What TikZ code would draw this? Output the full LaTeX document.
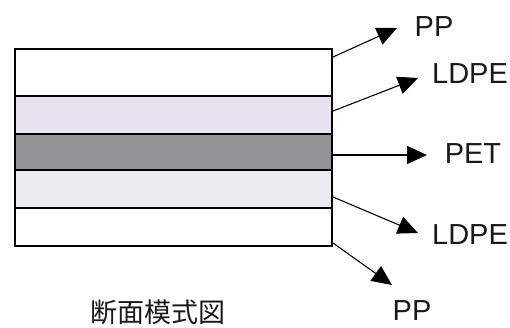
\documentclass[tikz,border=0pt]{standalone}
\usepackage{fontspec}
\setmainfont{Liberation Sans}
\newfontfamily\cjk{Noto Sans CJK JP}
\usetikzlibrary{arrows.meta}
\definecolor{lav}{RGB}{230,226,240}
\definecolor{midgray}{RGB}{148,148,150}
\definecolor{pale}{RGB}{236,235,239}
\begin{document}
\begin{tikzpicture}[x=1pt,y=-1pt,
  layer/.style={draw=black,line width=1.3pt,inner sep=0pt,outer sep=0pt,minimum width=317pt,anchor=north west},
  lbl/.style={font=\fontsize{29}{29}\selectfont,inner sep=0pt,text=black!90},
  arr/.style={line width=1.1pt,-{Triangle[length=20pt,width=18pt]}}]
\useasboundingbox (0,0) rectangle (510,327);
\node[layer,fill=white,minimum height=47pt] (l1) at (15,49) {};
\node[layer,fill=lav,minimum height=38pt] (l2) at (15,96) {};
\node[layer,fill=midgray,minimum height=36pt] (l3) at (15,134) {};
\node[layer,fill=pale,minimum height=38pt] (l4) at (15,170) {};
\node[layer,fill=white,minimum height=38pt] (l5) at (15,208) {};
\coordinate (s1) at (333,57);
\coordinate (s2) at (333,111);
\coordinate (s3) at (333,155);
\coordinate (s4) at (333,197);
\coordinate (s5) at (333,243);
\coordinate (t1) at (397,28);
\coordinate (t2) at (418,78);
\coordinate (t3) at (427,155);
\coordinate (t4) at (418,233);
\coordinate (t5) at (392,285);
\draw[arr] (s1) -- (t1);
\draw[arr] (s2) -- (t2);
\draw[arr] (s3) -- (t3);
\draw[arr] (s4) -- (t4);
\draw[arr] (s5) -- (t5);
\node[lbl] (p1) at (434,27) {PP};
\node[lbl] (p2) at (470,74) {LDPE};
\node[lbl] (p3) at (473,154) {PET};
\node[lbl] (p4) at (470,235) {LDPE};
\node[lbl] (p5) at (412,311) {PP};
\node[lbl,font=\cjk\fontsize{27}{27}\selectfont] (cap) at (158,312) {断面模式図};
\end{tikzpicture}
\end{document}
